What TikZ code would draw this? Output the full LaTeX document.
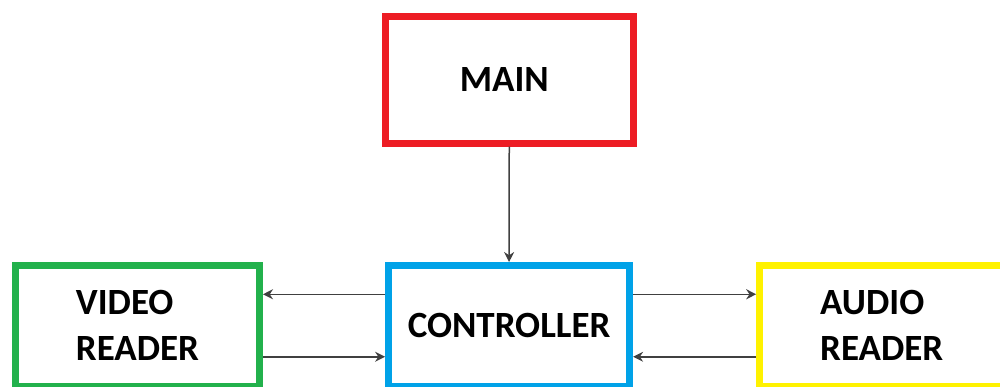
\documentclass[tikz,border=0pt]{standalone}
\usepackage{fontspec}
\setmainfont{Carlito}
\usetikzlibrary{arrows.meta}

\definecolor{mainred}{RGB}{237,28,36}
\definecolor{videogreen}{RGB}{34,177,76}
\definecolor{ctrlblue}{RGB}{0,162,232}
\definecolor{audioyellow}{RGB}{255,242,0}

\tikzset{
    block/.style={draw, line width=7pt, rectangle, align=left,
        font=\fontsize{37}{46}\selectfont\bfseries},
    flow/.style={-{Stealth[length=10pt,width=10pt]}, line width=1.5pt, black!75}
}

\begin{document}
\begin{tikzpicture}[x=1pt,y=-1pt]
    % Fix the page to the size of the reference
    \clip (0,0) rectangle (1000,386);

    % Draw the main block
    \node[block, mainred, text=black, minimum width=247.5pt, minimum height=126.5pt]
        (main) at (509.25,79.75) {\hspace*{-10pt}MAIN};

    % Draw the three blocks of the lower row
    \node[block, videogreen, text=black, minimum width=244pt, minimum height=120.5pt]
        (video) at (137.5,325.75) {VIDEO\\READER};
    \node[block, ctrlblue, text=black, minimum width=241pt, minimum height=120.5pt]
        (ctrl) at (509.1,325.75) {CONTROLLER};
    \node[block, audioyellow, text=black, minimum width=244pt, minimum height=120.5pt]
        (audio) at (881.7,325.75) {AUDIO\\READER};

    % arrow from main to controller
    \draw[flow] (main.south) -- (ctrl.north);

    % arrows between controller and video reader
    \draw[flow] ([yshift=31.5pt]ctrl.west) -- ([yshift=31.5pt]video.east);
    \draw[flow] ([yshift=-31pt]video.east) -- ([yshift=-31pt]ctrl.west);

    % arrows between controller and audio reader
    \draw[flow] ([yshift=31.5pt]ctrl.east) -- ([yshift=31.5pt]audio.west);
    \draw[flow] ([yshift=-31pt]audio.west) -- ([yshift=-31pt]ctrl.east);
\end{tikzpicture}
\end{document}
